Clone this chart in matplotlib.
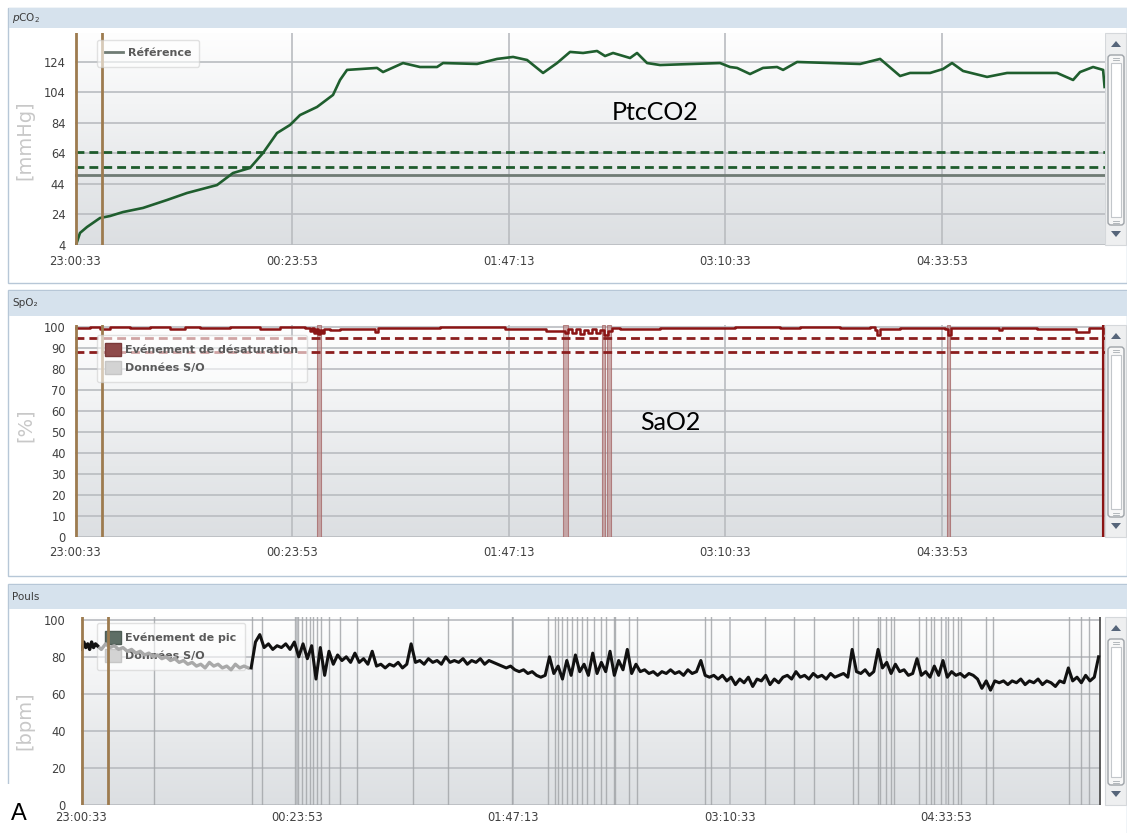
import matplotlib
matplotlib.use("Agg")
import matplotlib.pyplot as plt
import numpy as np
from matplotlib.lines import Line2D
from matplotlib.patches import Patch, Rectangle, FancyBboxPatch, Polygon
from matplotlib.colors import LinearSegmentedColormap

# ---------------------------------------------------------------- data
# time axis: seconds elapsed since 23:00:33
tick_pos = [0, 5000, 10000, 15000, 20000]
tick_labels = ["23:00:33", "00:23:53", "01:47:13", "03:10:33", "04:33:53"]
session_marks = [23, 615]

# transcutaneous pCO2 (mmHg)
pco2_t = [23, 115, 277, 577, 807, 1107, 1569, 2122, 2584, 3276, 3645, 4037,
          4337, 4660, 4960, 5191, 5583, 5952, 6114, 6275, 6967, 7106, 7567,
          7959, 8351, 8490, 9274, 9736, 10105, 10428, 10797, 11120, 11420,
          11720, 12043, 12227, 12412, 12804, 12965, 13196, 13496, 14880,
          15111, 15272, 15572, 15872, 16195, 16334, 16657, 18110, 18572,
          19033, 19263, 19725, 20025, 20232, 20486, 21040, 21501, 22424,
          22655, 23024, 23185, 23485, 23716, 23750]
pco2_v = [4.0, 11.9, 15.8, 21.7, 23.0, 25.6, 28.3, 33.5, 38.1, 43.3, 51.2,
          54.5, 64.3, 77.4, 82.7, 89.2, 94.5, 102.4, 112.2, 118.8, 120.1,
          117.4, 123.3, 120.7, 120.7, 123.3, 122.7, 126.0, 127.3, 125.3,
          116.8, 123.3, 130.6, 129.9, 131.2, 127.9, 129.9, 126.6, 129.9,
          123.3, 122.0, 123.3, 120.7, 120.1, 116.1, 120.1, 120.7, 118.8,
          124.0, 122.7, 126.0, 114.8, 116.8, 116.8, 119.4, 123.3, 118.1,
          114.2, 116.8, 116.8, 116.8, 112.2, 117.4, 120.7, 118.8, 107.6]
pco2_limits = [65, 55]
pco2_reference = 50
pco2_ticks = [4, 24, 44, 64, 84, 104, 124]

# SpO2 (%)
spo2_t = [23, 346, 577, 807, 1269, 1730, 2192, 2538, 2884, 3576, 4268, 4729,
          5306, 5421, 5468, 5514, 5560, 5606, 5652, 5698, 5744, 5883, 6114,
          6852, 6921, 6990, 8421, 9920, 10866, 11304, 11373, 11466, 11558,
          11650, 11743, 11835, 11927, 12019, 12112, 12204, 12296, 12389,
          12573, 13496, 15226, 16264, 16726, 17649, 18341, 18456, 18502,
          18572, 19033, 20071, 20140, 20209, 21317, 21386, 22193, 23093,
          23393, 23716]
spo2_v = [99.5, 100, 99, 100, 99.5, 100, 99, 100, 99.5, 100, 99, 100,
          99.5, 98, 99.5, 97, 99, 96.5, 98.5, 97, 99, 98.5, 99,
          99, 97.5, 99.5, 100, 99, 98, 97, 99, 97, 99,
          96.5, 98.5, 97, 99, 97, 98.5, 96, 98, 99.5,
          99, 99.5, 100, 99.5, 100, 99.5, 100, 98.5, 96,
          99, 99.5, 99, 96, 99.5, 98.5, 99.5, 99, 97.8,
          99.5, 97]
spo2_limits = [95, 88]
desat_start = [5583, 11258, 12158, 12273, 20117, 23693]
desat_end = [5675, 11374, 12227, 12366, 20186, 23760]

# pulse (bpm): three recorded stretches, the middle one flagged "S/O"
pulse_a_start, pulse_a_step = 20, 45
pulse_a = [84, 88, 85, 87, 84, 88, 85, 87, 86]
pulse_so_start, pulse_so_step = 370, 100
pulse_so = [86, 84, 87, 85, 86, 84, 85, 83, 84, 82, 83, 81, 82, 80, 81, 79,
            80, 78, 79, 77, 78, 76, 77, 75, 76, 74, 77, 75, 76, 74, 75, 73,
            76, 74, 75, 74]
pulse_b_start, pulse_b_step = 3935, 100
pulse_b = [74, 88, 92, 85, 87, 84, 86, 85, 87, 84, 88, 80, 87, 79, 86, 68,
           85, 70, 83, 76, 81, 78, 80, 77, 82, 77, 79, 76, 83, 75, 76, 74,
           76, 75, 77, 74, 76, 87, 77, 78, 76, 79, 77, 78, 76, 80, 77, 78,
           77, 79, 76, 78, 77, 79, 76, 78, 77, 76, 75, 74, 75, 73, 72, 73,
           71, 72, 70, 69, 70, 80, 71, 75, 68, 78, 70, 81, 72, 76, 70, 82,
           71, 77, 72, 83, 70, 78, 73, 84, 71, 76, 72, 73, 71, 72, 70, 72,
           71, 73, 71, 72, 70, 73, 71, 72, 78, 70, 69, 70, 68, 70, 67, 69,
           65, 68, 66, 69, 64, 68, 67, 70, 65, 68, 66, 69, 70, 68, 72, 69,
           70, 68, 71, 69, 70, 68, 71, 69, 70, 71, 69, 84, 72, 71, 73, 70,
           72, 84, 74, 77, 71, 76, 72, 73, 70, 71, 79, 70, 72, 69, 75, 70,
           78, 69, 72, 70, 71, 69, 71, 70, 68, 63, 67, 62, 67, 66, 67, 65,
           67, 66, 68, 65, 67, 66, 68, 65, 67, 66, 64, 67, 66, 74, 67, 69,
           66, 70, 67, 69, 80]
pulse_events = [1690, 3959, 4190, 4954, 5024, 5116, 5209, 5301, 5371, 5463,
                5556, 5741, 5996, 6389, 7686, 8496, 9978, 10811, 10973,
                11043, 11135, 11251, 11367, 11482, 11598, 11714, 11853,
                12015, 12131, 12316, 12339, 12663, 12848, 14422, 14561,
                15811, 16483, 16946, 17849, 17964, 18427, 18474, 18613,
                18728, 18798, 19376, 19539, 19654, 19724, 19886, 20048,
                20164, 20279, 20349, 20928, 21090, 22849, 23127, 23312]
pulse_end = 23567
pulse_ticks = [0, 20, 40, 60, 80, 100]

# ---------------------------------------------------------------- figure
W, H = 1127, 833
fig = plt.figure(figsize=(W / 100, H / 100), dpi=100)
fig.patch.set_facecolor("white")

# window chrome drawn in pixel coordinates
bg = fig.add_axes([0, 0, 1, 1], zorder=0)
bg.set_xlim(0, W)
bg.set_ylim(H, 0)
bg.axis("off")

FRAME = "#B7C7D7"
HEADER = "#D6E2ED"
for top, bottom in [(8, 283), (290, 576), (584, 840)]:
    bg.add_patch(Rectangle((8, top), W - 8, bottom - top, facecolor="white",
                           edgecolor=FRAME, lw=1))
for top, bottom, title in [(8, 28, r"$p\mathrm{CO}_2$"), (291, 316, "SpO₂"),
                           (585, 609, "Pouls")]:
    bg.add_patch(Rectangle((9, top), W - 9, bottom - top, facecolor=HEADER,
                           edgecolor="none"))
    bg.text(12, (top + bottom) / 2, title, fontsize=7.5, color="#3C3C3C",
            va="center", ha="left")


def scrollbar(top, bottom):
    bg.add_patch(Rectangle((1105, top), 21, bottom - top, facecolor="#EEEFF0",
                           edgecolor="#D5D8DB", lw=0.8))
    cx = 1116
    bg.add_patch(Polygon([(cx - 5, top + 14), (cx + 5, top + 14),
                          (cx, top + 8)], closed=True, facecolor="#56657A",
                         edgecolor="none"))
    bg.add_patch(Polygon([(cx - 5, bottom - 14), (cx + 5, bottom - 14),
                          (cx, bottom - 8)], closed=True, facecolor="#56657A",
                         edgecolor="none"))
    bg.add_patch(FancyBboxPatch((1108, top + 22), 16, bottom - top - 42,
                                boxstyle="round,pad=0,rounding_size=3",
                                facecolor="#F7F7F7", edgecolor="#9EA3A8",
                                lw=1))
    bg.add_patch(Rectangle((1111, top + 30), 10, bottom - top - 58,
                           facecolor="white", edgecolor="#C2C6CA", lw=0.8))
    for gy in (top + 25, bottom - 24):
        bg.plot([1113, 1119], [gy, gy], color="#A8ADB2", lw=0.6)
        bg.plot([1113, 1119], [gy + 2, gy + 2], color="#A8ADB2", lw=0.6)


scrollbar(33, 245)
scrollbar(325, 537)
scrollbar(617, 805)

ylab_kw = dict(rotation=90, fontsize=14, color="#C8C8C8", ha="center",
               va="center")
bg.text(25, 140, "[mmHg]", **ylab_kw)
bg.text(25, 425, "[%]", **ylab_kw)
bg.text(25, 721, "[bpm]", **ylab_kw)

bg.add_patch(Rectangle((0, 784), 62, 49, facecolor="white", edgecolor="none"))
bg.text(19, 814, "A", fontsize=17, family="Liberation Sans", color="black",
        ha="center", va="center")

# ---------------------------------------------------------------- plot areas
grad_cmap = LinearSegmentedColormap.from_list(
    "panel", ["#FEFEFE", "#F3F4F5", "#E6E8EA", "#DCDFE2"])
GRID = "#B9BCC0"


def plot_area(rect, xmax, yticks, ylim, ypad, xpad):
    ax = fig.add_axes(rect, zorder=1)
    ax.set_facecolor("none")
    grad = np.linspace(0, 1, 256).reshape(-1, 1)
    ax.imshow(grad, extent=[0, 1, 0, 1], transform=ax.transAxes,
              cmap=grad_cmap, aspect="auto", origin="upper", zorder=0)
    for s in ax.spines.values():
        s.set_visible(False)
    ax.set_xlim(0, xmax)
    ax.set_ylim(*ylim)
    ax.set_xticks(tick_pos)
    ax.set_xticklabels(tick_labels)
    ax.set_yticks(yticks)
    ax.tick_params(length=0, labelsize=8.3, labelcolor="#404040")
    ax.tick_params(axis="y", pad=ypad)
    ax.tick_params(axis="x", pad=xpad)
    for y in yticks:
        ax.axhline(y, color=GRID, lw=1.2, zorder=1)
    for x in tick_pos[1:]:
        ax.axvline(x, color=GRID, lw=1.2, zorder=1)
    for x in session_marks:
        ax.axvline(x, color="#9D7B4F", lw=2, zorder=6)
    return ax


def px_rect(left, top, right, bottom):
    return [left / W, 1 - bottom / H, (right - left) / W, (bottom - top) / H]


leg_kw = dict(loc="upper left", borderaxespad=0, fancybox=True,
              framealpha=0.6, edgecolor="#CFCFCF", facecolor="white",
              prop={"size": 8, "weight": "bold"}, labelcolor="#5A5A5A",
              borderpad=0.75)

# pCO2
ax1 = plot_area(px_rect(75, 33, 1105, 245), 23760, pco2_ticks, (4, 143), 7, 7)
ax1.axhline(pco2_reference, color="#6F7B74", lw=2, zorder=3)
for lim in pco2_limits:
    ax1.axhline(lim, color="#1E5B2C", lw=2, ls=(0, (3.2, 1.8)), zorder=3)
ax1.plot(pco2_t, pco2_v, color="#1F5E2E", lw=1.9, zorder=5)
ax1.text(0.563, 0.627, "PtcCO2", transform=ax1.transAxes, fontsize=18,
         family=["Lato", "DejaVu Sans"], ha="center", va="center",
         color="black", zorder=7)
leg1 = ax1.legend([Line2D([], [], color="#6F7B74", lw=2)], ["Référence"],
                  bbox_to_anchor=(0.0214, 0.967), handlelength=1.6,
                  handletextpad=0.4, **leg_kw)
leg1.set_zorder(8)

# SpO2
ax2 = plot_area(px_rect(75, 325, 1105, 537), 23760, list(range(0, 101, 10)),
                (0, 101), 6.5, 6.5)
for a, b in zip(desat_start, desat_end):
    ax2.axvspan(a, b, facecolor="#BE9292", edgecolor="#A46464", lw=0.8,
                alpha=0.75, zorder=2)
for lim in spo2_limits:
    ax2.axhline(lim, color="#8B1E1E", lw=2, ls=(0, (3.2, 1.8)), zorder=3)
ax2.plot(spo2_t, spo2_v, color="#8B1414", lw=1.8, drawstyle="steps-post",
         zorder=5)
ax2.axvline(desat_end[-1] - 40, color="#8B1414", lw=1.5, zorder=5)
ax2.text(0.578, 0.542, "SaO2", transform=ax2.transAxes, fontsize=18,
         family=["Lato", "DejaVu Sans"], ha="center", va="center",
         color="black", zorder=7)
leg2 = ax2.legend([Patch(facecolor="#8E4A4A", edgecolor="#7A3A3A"),
                   Patch(facecolor="#D3D3D3", edgecolor="#C6C6C6")],
                  ["Evénement de désaturation", "Données S/O"],
                  bbox_to_anchor=(0.0214, 0.953), handlelength=1.4,
                  handleheight=1.4, handletextpad=0.4, labelspacing=0.45,
                  **leg_kw)
leg2.set_zorder(8)

# Pulse
ax3 = plot_area(px_rect(81, 617, 1101, 805), 23590, pulse_ticks, (0, 101.5),
                11, 4.5)
for x in pulse_events:
    ax3.axvline(x, color="#A4A7AA", lw=1.0, alpha=0.85, zorder=1.5)
ax3.axvline(pulse_end, color="#505050", lw=1.3, zorder=1.5)
t_a = pulse_a_start + pulse_a_step * np.arange(len(pulse_a))
t_so = pulse_so_start + pulse_so_step * np.arange(len(pulse_so))
t_b = pulse_b_start + pulse_b_step * np.arange(len(pulse_b))
leg3 = ax3.legend([Patch(facecolor="#5E6E66", edgecolor="#4E5C55"),
                   Patch(facecolor="#D3D3D3", edgecolor="#C6C6C6")],
                  ["Evénement de pic", "Données S/O"],
                  bbox_to_anchor=(0.0157, 0.968), handlelength=1.4,
                  handleheight=1.4, handletextpad=0.4, labelspacing=0.45,
                  **leg_kw)
leg3.set_zorder(2.5)
ax3.plot(t_so, pulse_so, color="#A9A9A9", lw=2.4, zorder=4,
         solid_joinstyle="round")
ax3.plot(t_a, pulse_a, color="#111111", lw=2.4, zorder=5,
         solid_joinstyle="round")
ax3.plot(t_b, pulse_b, color="#111111", lw=2.2, zorder=5,
         solid_joinstyle="round")

fig.savefig("out.png", dpi=100)
